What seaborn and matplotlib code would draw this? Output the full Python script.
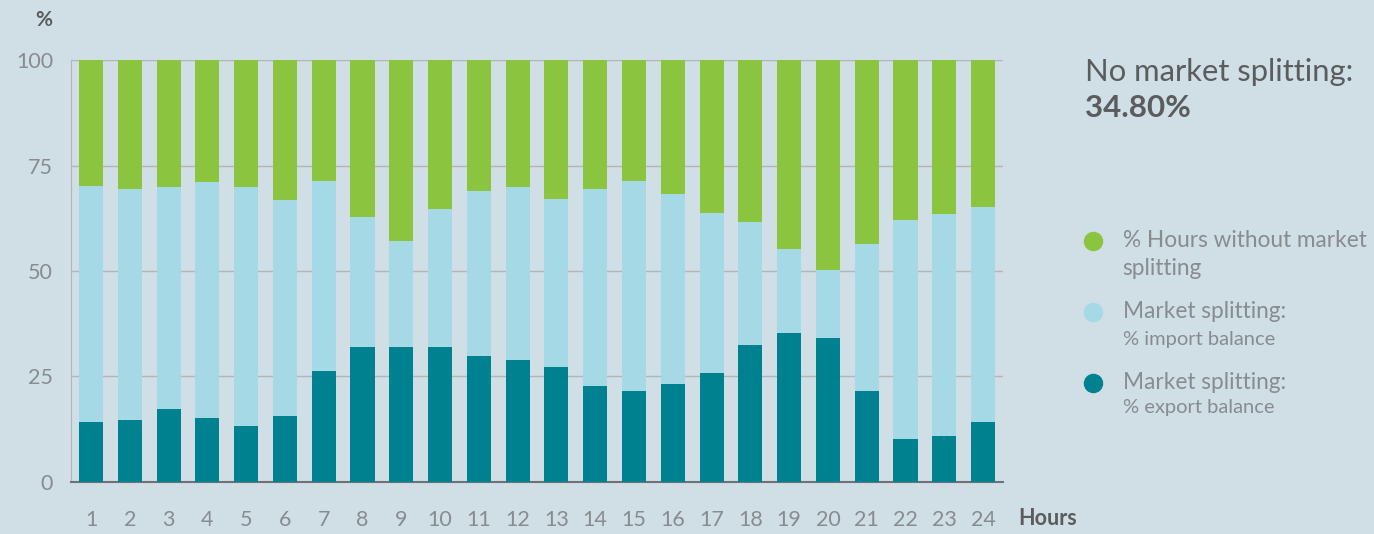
import matplotlib
matplotlib.use("Agg")
import matplotlib.pyplot as plt
import seaborn as sns
import numpy as np
import pandas as pd
from matplotlib.lines import Line2D

hours = [str(h) for h in range(1, 25)]
export_balance = [14.2, 14.7, 17.3, 15.2, 13.3, 15.6, 26.3, 32.1, 32.1, 31.9, 29.8, 28.8,
                  27.3, 22.8, 21.6, 23.3, 25.8, 32.5, 35.4, 34.2, 21.6, 10.3, 11.0, 14.1]
import_balance = [55.9, 54.7, 52.6, 55.9, 56.6, 51.3, 45.0, 30.6, 25.1, 32.7, 39.2, 41.1,
                  39.8, 46.6, 49.7, 45.0, 37.9, 29.0, 19.7, 16.0, 34.9, 51.9, 52.4, 51.1]
no_splitting = [29.9, 30.6, 30.1, 28.9, 30.1, 33.1, 28.7, 37.3, 42.8, 35.4, 31.0, 30.1,
                32.9, 30.6, 28.7, 31.7, 36.3, 38.5, 44.9, 49.8, 43.5, 37.8, 36.6, 34.8]
legend_main = ["% Hours without market", "Market splitting:", "Market splitting:"]
legend_sub = ["splitting", "% import balance", "% export balance"]

bg = "#CFDFE5"
c_green = "#8BC53F"
c_light = "#A5D9E6"
c_teal = "#00818F"
txt = "#878C91"
dark = "#5A5C5E"

df = pd.DataFrame({"hour": hours, "export": export_balance,
                   "imp": import_balance, "none": no_splitting})
df["top_import"] = df["export"] + df["imp"]
df["total"] = df["top_import"] + df["none"]

sns.set_style("white")
plt.rcParams["font.family"] = ["Lato", "DejaVu Sans"]

fig = plt.figure(figsize=(13.74, 5.34), dpi=100, facecolor=bg)
ax = fig.add_axes([0.0517, 0.0974, 0.6783, 0.7902])
ax.set_facecolor(bg)

for y in [25, 50, 75, 100]:
    ax.axhline(y, color="#B2B5B8", lw=1.0, zorder=0)

w = 0.62
sns.barplot(data=df, x="hour", y="total", color=c_green, width=w, saturation=1,
            linewidth=0, ax=ax, zorder=2)
sns.barplot(data=df, x="hour", y="top_import", color=c_light, width=w, saturation=1,
            linewidth=0, ax=ax, zorder=3)
sns.barplot(data=df, x="hour", y="export", color=c_teal, width=w, saturation=1,
            linewidth=0, ax=ax, zorder=4)

ax.set_xlim(-0.515, 23.515)
ax.set_ylim(0, 100)
ax.set_yticks([0, 25, 50, 75, 100])
ax.set_xlabel("")
ax.set_ylabel("")
for s in ["top", "right"]:
    ax.spines[s].set_visible(False)
ax.spines["left"].set_color("#B2B5B8")
ax.spines["bottom"].set_color("#6E7276")
ax.spines["bottom"].set_linewidth(1.5)
ax.tick_params(axis="both", length=0, labelsize=15.5, labelcolor=txt)
ax.tick_params(axis="y", pad=13)
ax.tick_params(axis="x", pad=20)

fig.text(0.026, 0.962, "%", fontsize=15, fontweight="bold", color=dark, ha="left", va="center")
fig.text(0.741, 0.029, "Hours", fontsize=15.5, fontweight="bold", color=dark, ha="left", va="center")

fig.text(0.790, 0.865, "No market splitting:", fontsize=22.3, color=dark,
         ha="left", va="center")
fig.text(0.790, 0.797, "34.80%", fontsize=22.5, fontweight="bold", color=dark, ha="left", va="center")

colors = [c_green, c_light, c_teal]
ys = [0.549, 0.416, 0.283]
sub_sizes = [16.3, 14.5, 14.5]
sub_offsets = [0.052, 0.051, 0.047]
for col, y, lab, sub, ss, so in zip(colors, ys, legend_main, legend_sub, sub_sizes, sub_offsets):
    fig.add_artist(Line2D([0.7955], [y], marker="o", markersize=13, color=col, lw=0,
                          transform=fig.transFigure))
    fig.text(0.817, y, lab, fontsize=16.3, color=txt, ha="left", va="center")
    fig.text(0.817, y - so, sub, fontsize=ss, color=txt, ha="left", va="center")

fig.savefig("out.png", dpi=100, facecolor=bg)
